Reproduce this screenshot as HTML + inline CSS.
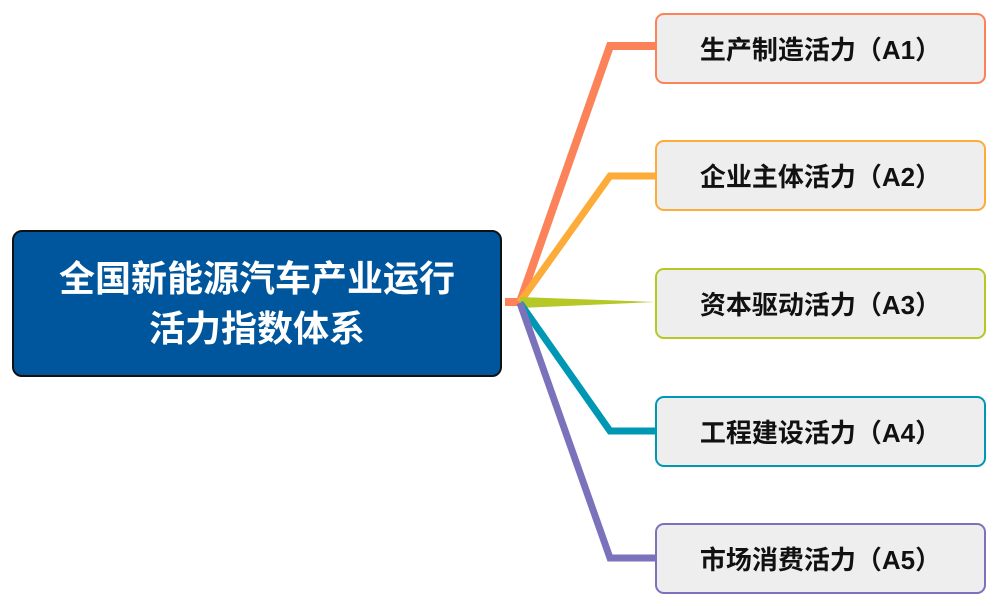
<!DOCTYPE html>
<html><head><meta charset="utf-8"><style>
body{margin:0;width:999px;height:606px;background:#fff;position:relative;overflow:hidden;font-family:"Liberation Sans","Noto Sans CJK SC",sans-serif;}
.root{position:absolute;left:12px;top:230px;width:486px;height:143px;background:#00569c;border:2px solid #111;border-radius:10px;color:#fff;font-weight:bold;font-size:36px;line-height:50px;text-align:center;display:flex;align-items:center;justify-content:center;}
.c{position:absolute;left:655px;width:327px;height:67px;background:#eeeeee;border:2.5px solid;border-radius:9px;font-weight:bold;font-size:26px;display:flex;align-items:center;justify-content:center;color:#111;}
svg{position:absolute;left:0;top:0}
</style></head><body>
<svg width="999" height="606">
<g fill="none" stroke-linejoin="miter">
<polyline points="505,302 520,302 610,46 655,46" stroke="#fc825a" stroke-width="8"/>
<polyline points="520,302 610,176 655,176" stroke="#fdab39" stroke-width="7"/>
<polygon points="520,297 655,302 520,308" fill="#b5c826"/>
<polyline points="520,303 610,431 655,431" stroke="#0097b5" stroke-width="7"/>
<polyline points="520,303 610,558 655,558" stroke="#7a73bc" stroke-width="7"/>
</g>
</svg>
<div class="root">全国新能源汽车产业运行<br>活力指数体系</div>
<div class="c" style="top:13px;border-color:#fc825a">生产制造活力（A1）</div>
<div class="c" style="top:140px;border-color:#fdab39">企业主体活力（A2）</div>
<div class="c" style="top:268px;border-color:#b5c826">资本驱动活力（A3）</div>
<div class="c" style="top:396px;border-color:#0097b5">工程建设活力（A4）</div>
<div class="c" style="top:523px;border-color:#7a73bc">市场消费活力（A5）</div>
</body></html>
